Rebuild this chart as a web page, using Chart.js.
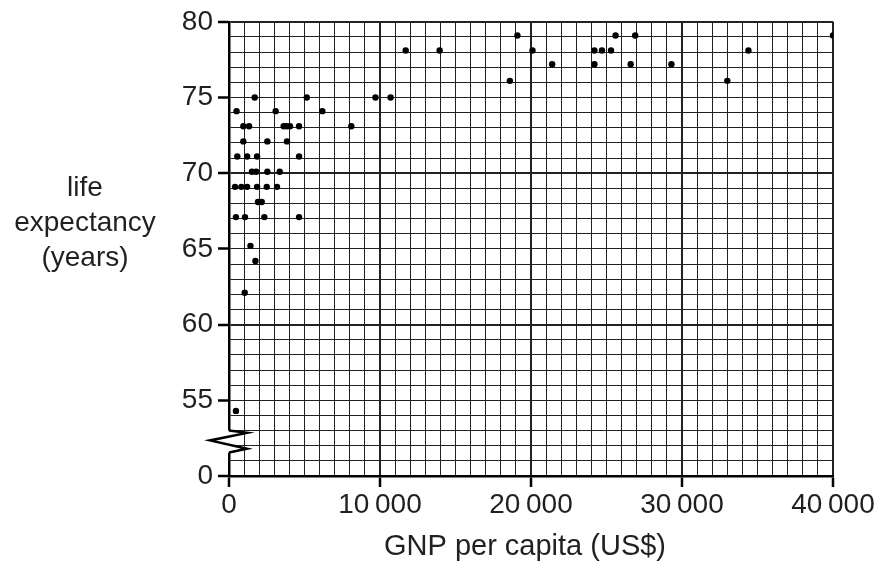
<!DOCTYPE html>
<html>
<head>
<meta charset="utf-8">
<title>Life expectancy vs GNP per capita</title>
<script src="https://cdn.jsdelivr.net/npm/chart.js@4/dist/chart.umd.min.js"></script>
<style>
  html, body { margin: 0; padding: 0; background: #fff; }
  #wrap { width: 880px; height: 562px; }
</style>
</head>
<body>
<div id="wrap"><canvas id="grafico" width="880" height="562"></canvas></div>
<script>
// datos
const gnpPerCapita = [
    500, 1700, 950, 1330, 950, 550, 1200, 1860, 1520, 1800,
    2540, 3360, 400, 820, 1200, 1860, 2500, 3180, 2540, 3090,
    3620, 3820, 4040, 4640, 3840, 4640, 5150, 6180, 8100, 9700,
    10700, 11700, 1920, 2170, 460, 1060, 2340, 4640, 1420, 1750,
    1040, 460, 13950, 19100, 18600, 20100, 21400, 24200, 24700, 25300,
    24200, 25600, 26900, 26600, 29300, 33000, 34400, 40000
];
const lifeExpectancy = [
    74.1, 75, 73.1, 73.1, 72.1, 71.1, 71.1, 71.1, 70.1, 70.1,
    70.1, 70.1, 69.1, 69.1, 69.1, 69.1, 69.1, 69.1, 72.1, 74.1,
    73.1, 73.1, 73.1, 73.1, 72.1, 71.1, 75, 74.1, 73.1, 75,
    75, 78.1, 68.1, 68.1, 67.1, 67.1, 67.1, 67.1, 65.2, 64.2,
    62.1, 54.3, 78.1, 79.1, 76.1, 78.1, 77.2, 78.1, 78.1, 78.1,
    77.2, 79.1, 79.1, 77.2, 77.2, 76.1, 78.1, 79.1
];
const xTicksMajor = [0, 10000, 20000, 30000, 40000];
const yTicksMajor = [55, 60, 65, 70, 75, 80];
const yBreakValue = 50; // se muestra como "0" (eje cortado)

const TEXTO = '#231f20';
const FUENTE = '"Liberation Sans", Arial, Helvetica, sans-serif';

function formatMiles(v) {
    if (v === 0) return '0';
    const s = String(v);
    return s.slice(0, s.length - 3) + '\u2009' + s.slice(-3);
}

// plugin: titulos de ejes y el corte en zigzag del eje y
const extras = {
    id: 'extras',
    afterDraw(chart) {
        const ctx = chart.ctx;
        const y = chart.scales.y;
        const left = chart.chartArea.left;
        const yTop = y.getPixelForValue(53.0);
        const yBot = y.getPixelForValue(51.55);
        ctx.save();
        ctx.fillStyle = '#fff';
        ctx.fillRect(left - 2, yTop, 4, yBot - yTop);
        ctx.strokeStyle = '#000';
        ctx.lineWidth = 2.5;
        ctx.lineJoin = 'miter';
        ctx.beginPath();
        ctx.moveTo(left, yTop);
        ctx.lineTo(left + 18, y.getPixelForValue(52.85));
        ctx.lineTo(left - 19, y.getPixelForValue(52.35));
        ctx.lineTo(left + 18, y.getPixelForValue(51.8));
        ctx.lineTo(left, yBot);
        ctx.stroke();

        ctx.fillStyle = TEXTO;
        ctx.textAlign = 'center';
        ctx.textBaseline = 'alphabetic';
        ctx.font = '29px ' + FUENTE;
        ctx.fillText('GNP per capita (US$)', 525, 555);
        ctx.font = '28px ' + FUENTE;
        ctx.fillText('life', 85, 196);
        ctx.fillText('expectancy', 85, 231);
        ctx.fillText('(years)', 85, 266);
        ctx.restore();
    }
};

const puntos = gnpPerCapita.map((x, i) => ({ x: x, y: lifeExpectancy[i] }));

new Chart(document.getElementById('grafico'), {
    type: 'scatter',
    data: {
        datasets: [{
            data: puntos,
            backgroundColor: '#000',
            borderWidth: 0,
            pointRadius: 3.2,
            pointHoverRadius: 3.2
        }]
    },
    options: {
        responsive: false,
        animation: false,
        events: [],
        layout: { padding: { top: 20, right: 47, left: 0, bottom: 0 } },
        plugins: {
            legend: { display: false },
            tooltip: { enabled: false }
        },
        scales: {
            x: {
                type: 'linear',
                min: 0,
                max: 40000,
                afterFit: s => { s.height = 86; },
                border: { display: true, color: '#000', width: 2.5 },
                grid: {
                    color: '#222',
                    lineWidth: c => xTicksMajor.includes(c.tick.value) ? 2 : 1,
                    tickColor: c => xTicksMajor.includes(c.tick.value) ? '#000' : 'rgba(0,0,0,0)',
                    tickLength: 11,
                    tickWidth: 2.5
                },
                ticks: {
                    stepSize: 1000,
                    autoSkip: false,
                    maxRotation: 0,
                    padding: 1,
                    color: TEXTO,
                    font: { size: 28, family: FUENTE },
                    callback: v => xTicksMajor.includes(v) ? formatMiles(v) : ''
                }
            },
            y: {
                type: 'linear',
                min: 50,
                max: 80,
                afterFit: s => { s.width = 229; },
                border: { display: true, color: '#000', width: 2.5 },
                grid: {
                    color: '#222',
                    lineWidth: c => (c.tick.value % 10 === 0) ? 2 : 1,
                    tickColor: c => (c.tick.value === yBreakValue || yTicksMajor.includes(c.tick.value)) ? '#000' : 'rgba(0,0,0,0)',
                    tickLength: 11,
                    tickWidth: 2.5
                },
                ticks: {
                    stepSize: 1,
                    autoSkip: false,
                    padding: 5,
                    color: TEXTO,
                    font: { size: 28, family: FUENTE },
                    callback: v => v === yBreakValue ? '0' : (yTicksMajor.includes(v) ? String(v) : '')
                }
            }
        }
    },
    plugins: [extras]
});
</script>
</body>
</html>
